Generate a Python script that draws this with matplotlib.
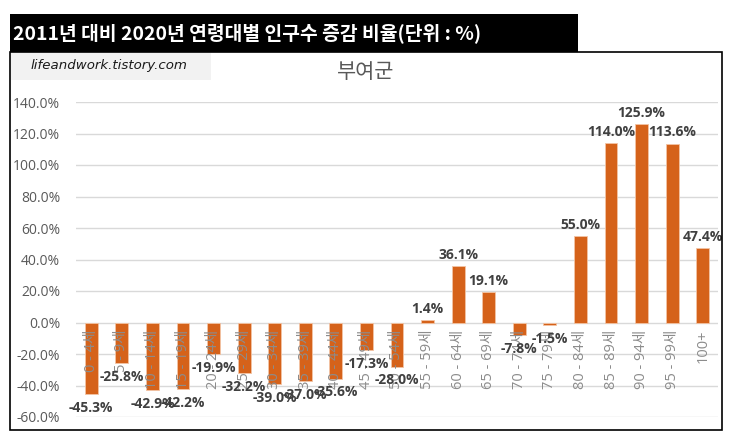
import matplotlib; matplotlib.use("Agg")
import matplotlib.pyplot as plt
from matplotlib.patches import Rectangle

plt.rcParams['font.family'] = ['Noto Sans CJK KR', 'DejaVu Sans']
NUM = ['Open Sans', 'Noto Sans CJK KR', 'DejaVu Sans']

# ages and % change 2011 -> 2020, 부여군
ages = ["0 - 4세", "5 - 9세", "10 - 14세", "15 - 19세", "20 - 24세", "25 - 29세", "30 - 34세",
        "35 - 39세", "40 - 44세", "45 - 49세", "50 - 54세", "55 - 59세", "60 - 64세", "65 - 69세",
        "70 - 74세", "75 - 79세", "80 - 84세", "85 - 89세", "90 - 94세", "95 - 99세", "100+"]
change = [-45.3, -25.8, -42.9, -42.2, -19.9, -32.2, -39.0, -37.0, -35.6, -17.3, -28.0,
          1.4, 36.1, 19.1, -7.8, -1.5, 55.0, 114.0, 125.9, 113.6, 47.4]
yticks = [-60, -40, -20, 0, 20, 40, 60, 80, 100, 120, 140]

W, H = 732, 443
fig = plt.figure(figsize=(W/100, H/100), dpi=100)

def fx(px): return px/W
def fy(py): return 1-py/H

# black header bar
fig.add_artist(Rectangle((fx(10), fy(52)), fx(578)-fx(10), fy(14)-fy(52), transform=fig.transFigure,
                         facecolor="black", edgecolor="none"))
fig.text(fx(13), fy(33), "2011년 대비 2020년 연령대별 인구수 증감 비율(단위 : %)", color="white",
         fontsize=13.9, fontweight="bold", va="center", ha="left")
# chart box
fig.add_artist(Rectangle((fx(10), fy(430)), fx(722)-fx(10), fy(52)-fy(430), transform=fig.transFigure,
                         facecolor="none", edgecolor="black", linewidth=1.2))
# watermark
fig.add_artist(Rectangle((fx(11), fy(80)), fx(211)-fx(11), fy(53)-fy(80), transform=fig.transFigure,
                         facecolor="#f2f2f2", edgecolor="none"))
fig.text(fx(109), fy(66), "lifeandwork.tistory.com", fontsize=9.6, style="italic", color="#1a1a1a",
         ha="center", va="center", family=["DejaVu Sans"])
fig.text(fx(366), fy(72), "부여군", fontsize=15, color="#595959", ha="center", va="center")

ax = fig.add_axes([fx(76), fy(417), fx(718)-fx(76), fy(102)-fy(417)])
x = range(len(ages))
ax.bar(x, change, width=0.42, color="#D5621A", edgecolor="#f3c4a4", linewidth=0.6, zorder=2)
ax.set_xlim(-0.5, len(ages)-0.5)
ax.set_ylim(-60, 140)
ax.set_yticks(yticks)
ax.set_yticklabels([f"{v:.1f}%" for v in yticks], fontsize=10, color="#595959", family=NUM)
ax.set_xticks([])
ax.tick_params(axis="y", length=0, pad=11.5)
ax.grid(axis="y", color="#d9d9d9", linewidth=1, zorder=0)
for s in ax.spines.values():
    s.set_visible(False)

for i, lab in enumerate(ages):
    ax.annotate(lab, (i, 0), xytext=(0, -5), textcoords="offset points", rotation=90,
                ha="center", va="top", fontsize=10.5, color="#8c8c8c", zorder=3, family=NUM)
for i, v in enumerate(change):
    off = 8 if v >= 0 else -10
    ax.annotate(f"{v:.1f}%", (i, v), xytext=(0, off), textcoords="offset points",
                ha="center", va="center", fontsize=10, fontweight="bold", color="#404040",
                zorder=4, family=NUM)

fig.savefig("out.png", dpi=100)
